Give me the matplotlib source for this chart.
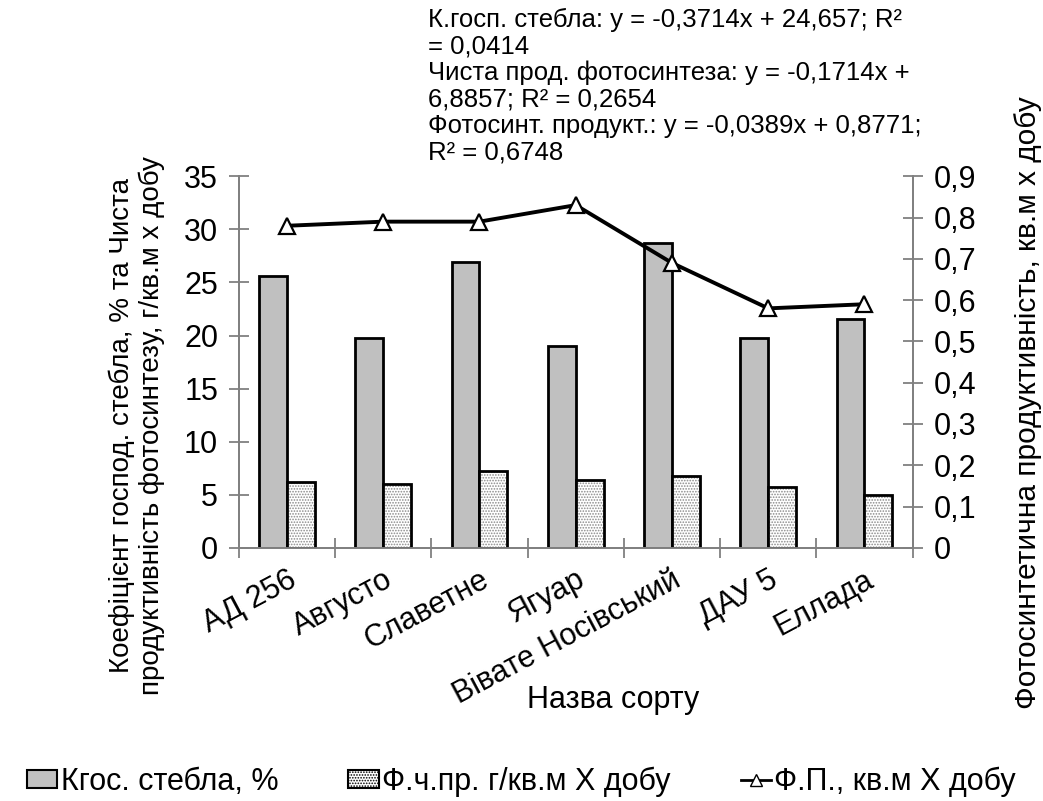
import matplotlib.pyplot as plt
import numpy as np
from matplotlib.lines import Line2D
from matplotlib.patches import Patch

plt.rcParams['font.family'] = ['Liberation Sans', 'DejaVu Sans']
plt.rcParams['hatch.linewidth'] = 0.8

# data
varieties = ["АД 256", "Августо", "Славетне", "Ягуар", "Вівате Носівський", "ДАУ 5", "Еллада"]
k_stem = [25.6, 19.8, 26.9, 19.0, 28.7, 19.8, 21.6]          # Кгос. стебла, %
net_photo = [6.2, 6.0, 7.2, 6.4, 6.8, 5.7, 5.0]              # Ф.ч.пр. г/кв.м х добу
photo_prod = [0.78, 0.79, 0.79, 0.83, 0.69, 0.58, 0.59]       # Ф.П., кв.м х добу

trend_text = ("К.госп. стебла: y = -0,3714x + 24,657; R²\n= 0,0414\n"
              "Чиста прод. фотосинтеза: y = -0,1714x +\n6,8857; R² = 0,2654\n"
              "Фотосинт. продукт.: y = -0,0389x + 0,8771;\nR² = 0,6748")

fig = plt.figure(figsize=(10.43, 8.01), dpi=100)
ax = fig.add_axes([0.229, 0.316, 0.646, 0.464])
ax2 = ax.twinx()

x = np.arange(len(varieties)) + 0.5
w = 0.29
gray = "#c0c0c0"
axis_col = "#808080"

# gray bars
ax.bar(x - w / 2, k_stem, w, color=gray, edgecolor="black", linewidth=2, zorder=2)
# dotted bars: hatch first, then black outline
ax.bar(x + w / 2, net_photo, w, color="white", edgecolor="#8a8a8a", hatch="......", linewidth=0, zorder=2)
ax.bar(x + w / 2, net_photo, w, color="none", edgecolor="black", linewidth=2, zorder=3)

ax2.plot(x, photo_prod, color="black", linewidth=2.8, marker="^", markersize=12,
         markerfacecolor="white", markeredgecolor="black", markeredgewidth=1.6, zorder=4)

ax.set_xlim(0, len(varieties))
ax.set_ylim(0, 35)
ax.set_yticks(np.arange(0, 36, 5))
ax2.set_ylim(0, 0.9)
ax2.set_yticks(np.arange(0, 0.91, 0.1))
ax2.set_yticklabels([f"{v:.1f}".replace(".", ",") if v > 0 else "0" for v in np.arange(0, 0.91, 0.1)])

ax.set_xticks(np.arange(0, len(varieties) + 1))
ax.set_xticklabels([])
ax.set_xticks(x, minor=True)
ax.set_xticklabels(varieties, minor=True, rotation=28, ha="right", rotation_mode="anchor", fontsize=22)
ax.tick_params(axis="x", which="minor", length=0, pad=12)
ax.tick_params(axis="x", which="major", direction="inout", length=14, color=axis_col, width=1.3)
ax.tick_params(axis="y", direction="inout", length=14, color=axis_col, width=1.3, labelsize=22, pad=8)
ax2.tick_params(axis="y", direction="inout", length=14, color=axis_col, width=1.3, labelsize=22, pad=8)

for a in (ax, ax2):
    a.spines["top"].set_visible(False)
    for s in ("left", "right", "bottom"):
        a.spines[s].set_color(axis_col)
        a.spines[s].set_linewidth(1.3)
ax.set_zorder(ax2.get_zorder() - 1)
ax2.patch.set_visible(False)

ax.set_xlabel("Назва сорту", fontsize=22)
ax.xaxis.set_label_coords(0.555, -0.37)
ax.set_ylabel("Коефіцієнт господ. стебла, % та Чиста\nпродуктивність фотосинтезу, г/кв.м х добу",
              fontsize=20, linespacing=1.15)
ax.yaxis.set_label_coords(-0.11, 0.33)
ax2.set_ylabel("Фотосинтетична продуктивність, кв.м х добу", fontsize=21.5)
ax2.yaxis.set_label_coords(1.15, 0.39)

fig.text(0.41, 0.99, trend_text, fontsize=18.5, va="top", ha="left", linespacing=1.12)

handles = [
    Patch(facecolor=gray, edgecolor="black", linewidth=1.5),
    Patch(facecolor="white", edgecolor="black", hatch="......", linewidth=1.5),
    Line2D([0], [0], color="black", linewidth=2, marker="^", markersize=9,
           markerfacecolor="white", markeredgecolor="black"),
]
labels = ["Кгос. стебла, %", "Ф.ч.пр. г/кв.м Х добу", "Ф.П., кв.м Х добу"]
fig.legend(handles, labels, loc="center", bbox_to_anchor=(0.5, 0.024), ncol=3, frameon=False,
           fontsize=22, handlelength=1.0, handleheight=0.5, handletextpad=0.1, columnspacing=2.3)

fig.savefig("out.png", dpi=100)
